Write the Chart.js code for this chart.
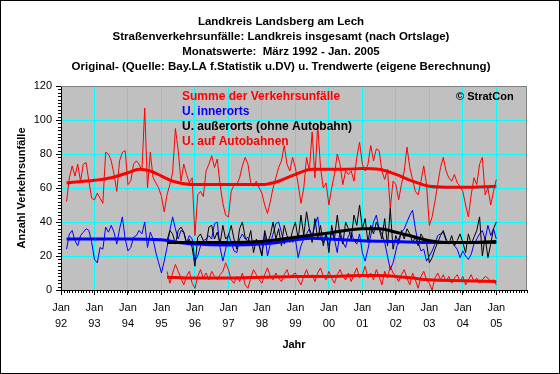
<!DOCTYPE html>
<html>
<head>
<meta charset="utf-8">
<script src="https://cdn.jsdelivr.net/npm/chart.js@4/dist/chart.umd.min.js"></script>
<style>
html,body{margin:0;padding:0;background:#fff;}
canvas{display:block;}
</style>
</head>
<body>
<canvas id="c" width="560" height="374"></canvas>
<script>
// ---- data (month index 0 = Jan 1992) ----
const titleLines = [
  'Landkreis Landsberg am Lech',
  'Straßenverkehrsunfälle: Landkreis insgesamt (nach Ortslage)',
  'Monatswerte:  März 1992 - Jan. 2005',
  'Original- (Quelle: Bay.LA f.Statistik u.DV) u. Trendwerte (eigene Berechnung)'
];
const seriesNames = ['Summe der Verkehrsunfälle', 'U. innerorts', 'U. außerorts (ohne Autobahn)', 'U. auf Autobahnen'];
const yearLabels = ['92','93','94','95','96','97','98','99','00','01','02','03','04','05'];
const startSumme = 2;    // März 1992
const startAusser = 38;  // März 1995

const summe = [
  52,66,73,67,74,64,74,75,64,54,
  53,57,54,51,81,80,76,68,58,76,81,82,
  62,64,74,76,74,70,107,60,81,66,63,60,
  55,46,56,62,69,95,82,64,74,68,63,66,
  32,56,58,55,70,74,79,72,77,62,51,44,
  43,58,62,62,66,73,78,74,63,61,64,60,
  57,50,45,52,60,66,72,76,85,74,70,78,
  72,62,51,60,78,70,93,66,97,72,60,63,
  50,60,68,80,74,62,70,68,70,64,78,87,
  74,70,74,85,76,83,82,70,65,71,48,64,
  62,53,62,70,84,72,65,58,56,64,73,62,
  38,43,52,62,72,78,70,66,64,68,63,61,
  58,50,43,56,66,62,74,78,56,60,50,58,
  65
];
const innerorts = [
  24,33,35,29,26,32,34,36,35,28,
  18,16,25,24,37,34,38,34,27,36,43,30,
  23,25,31,32,35,33,40,25,34,30,22,16,
  10,17,25,35,43,36,30,35,34,28,32,30,
  17,20,26,29,30,32,30,39,40,25,17,24,
  33,28,23,22,30,33,30,31,27,29,28,27,
  21,33,20,27,33,39,40,34,27,30,31,28,
  30,19,26,30,33,36,32,38,43,30,28,33,
  26,34,30,22,35,28,25,32,34,29,27,33,
  22,17,24,32,40,44,36,33,28,20,12,16,
  23,30,34,36,40,44,47,36,28,23,24,17,
  20,23,27,32,33,34,29,27,29,26,24,19,
  23,20,18,21,27,30,33,35,30,38,32,36,
  30
];
const ausserorts = [
  29,35,33,27,35,37,34,27,30,25,
  14,31,33,29,27,37,38,30,34,27,38,30,
  32,38,30,24,36,40,31,28,35,22,30,26,
  20,35,28,32,40,30,36,26,38,32,28,35,
  40,30,44,32,46,36,28,42,30,38,26,34,
  22,38,30,44,32,27,40,36,30,44,38,50,
  36,42,28,38,33,40,36,30,42,26,48,24,
  32,27,35,30,36,33,28,31,26,33,30,28,
  16,19,24,28,32,35,30,27,32,26,29,33,
  28,22,33,27,31,35,43,20,31,19,27,36,
  40
];
const autobahn = [
  11,4,10,15,11,7,3,8,11,4,
  1,8,12,7,10,6,11,8,6,9,11,16,
  12,6,4,8,5,10,3,1,7,12,9,6,
  4,9,13,8,6,10,7,5,9,12,7,9,
  10,6,3,8,12,7,9,5,10,13,8,6,
  11,7,4,9,12,8,6,10,5,9,13,7,
  9,14,7,10,6,12,8,3,11,7,14,10,
  8,5,9,12,7,3,10,6,1,8,11,6,
  4,0,7,10,6,9,5,8,4,7,9,5,
  8,3,6,9,5,7,4,6,8,7,5,6,
  3
];
// trend values (month index, value)
const trendSummeM = [2,12,18,24,28,32,36,40,44,48,60,72,78,84,90,96,102,108,114,120,126,132,138,144,156];
const trendSummeV = [63,64.5,66,69,71,70,67,64,62.5,62,62,62,64,68,71,71,71,71.5,71,68,64,61,60.5,60.5,61];
const trendInnerM = [2,24,36,42,48,60,72,84,90,96,108,120,132,156];
const trendInnerV = [30,30,29.5,28,27,26.5,27,29.5,30.5,30,29,28.5,28,28];
const trendAusserM = [38,48,60,72,84,96,108,114,120,126,132,138,144,156];
const trendAusserV = [28,28,28,28.5,31,33.5,36,36,34,31.5,29,28,28,28.5];
const trendAutoM = [38,48,60,72,84,96,108,114,120,126,132,144,156];
const trendAutoV = [7.5,7,7,7.5,8,8,8.5,8.5,8,7,6,5.5,5];

const FONT = "'Liberation Sans', Arial, sans-serif";
const pts = (start, arr) => arr.map((v, i) => ({x: start + i, y: v}));
const tpts = (m, v) => m.map((x, i) => ({x: x, y: v[i]}));

const raw = (label, data, color) => ({label, data, borderColor: color, borderWidth: 1, pointRadius: 0, fill: false, tension: 0});
const trend = (label, data, color) => ({label, data, borderColor: color, borderWidth: 3, pointRadius: 0, fill: false, cubicInterpolationMode: 'monotone'});

const decor = {
  id: 'decor',
  beforeDraw(chart) {
    const {ctx, chartArea: a} = chart;
    ctx.save();
    ctx.fillStyle = '#fff';
    ctx.fillRect(0, 0, chart.width, chart.height);
    ctx.fillStyle = '#C0C0C0';
    ctx.fillRect(a.left, a.top, a.right - a.left, a.bottom - a.top);
    ctx.restore();
  },
  afterDraw(chart) {
    const {ctx, chartArea: a, scales: {x, y}} = chart;
    ctx.save();
    // plot frame top/right
    ctx.strokeStyle = '#808080';
    ctx.lineWidth = 1;
    ctx.beginPath();
    ctx.moveTo(a.left, Math.round(a.top) + 0.5);
    ctx.lineTo(Math.round(a.right) - 0.5, Math.round(a.top) + 0.5);
    ctx.lineTo(Math.round(a.right) - 0.5, a.bottom);
    ctx.stroke();
    // minor ticks
    ctx.strokeStyle = '#000';
    ctx.beginPath();
    for (let m = 0; m <= 167; m++) {
      const px = Math.round(x.getPixelForValue(m)) + 0.5;
      ctx.moveTo(px, a.bottom); ctx.lineTo(px, a.bottom + 3);
    }
    for (let v = 0; v <= 120; v += 2) {
      const py = Math.round(y.getPixelForValue(v)) + 0.5;
      ctx.moveTo(a.left - 3, py); ctx.lineTo(a.left, py);
    }
    ctx.stroke();
    // title
    ctx.fillStyle = '#000';
    ctx.font = 'bold 11.5px ' + FONT;
    ctx.textAlign = 'center';
    ctx.textBaseline = 'middle';
    const ty = [22, 37, 52, 67];
    titleLines.forEach((t, i) => ctx.fillText(t, 281, ty[i]));
    // legend (text only)
    ctx.textAlign = 'left';
    ctx.font = 'bold 12px ' + FONT;
    const lc = ['#FF0000', '#0000FF', '#000000', '#FF0000'];
    seriesNames.forEach((t, i) => { ctx.fillStyle = lc[i]; ctx.fillText(t, 182, 97 + i * 15); });
    ctx.fillStyle = '#000';
    ctx.font = 'bold 11px ' + FONT;
    ctx.fillText('© StratCon', 456, 97);
    // outer border
    ctx.strokeStyle = '#000';
    ctx.strokeRect(0.5, 0.5, chart.width - 1, chart.height - 1);
    ctx.restore();
  }
};

new Chart(document.getElementById('c'), {
  type: 'line',
  data: {
    datasets: [
      trend('Trend Summe', tpts(trendSummeM, trendSummeV), '#FF0000'),
      trend('Trend außerorts', tpts(trendAusserM, trendAusserV), '#000000'),
      trend('Trend innerorts', tpts(trendInnerM, trendInnerV), '#0000FF'),
      trend('Trend Autobahnen', tpts(trendAutoM, trendAutoV), '#FF0000'),
      raw(seriesNames[3], pts(startAusser, autobahn), '#FF0000'),
      raw(seriesNames[2], pts(startAusser, ausserorts), '#000000'),
      raw(seriesNames[1], pts(startSumme, innerorts), '#0000FF'),
      raw(seriesNames[0], pts(startSumme, summe), '#FF0000')
    ]
  },
  options: {
    responsive: false,
    animation: false,
    devicePixelRatio: 1,
    layout: {padding: {top: 86, right: 33, left: 0, bottom: 0}},
    plugins: {legend: {display: false}, title: {display: false}, tooltip: {enabled: false}},
    scales: {
      x: {
        type: 'linear', min: 0, max: 167,
        afterBuildTicks: (s) => { s.ticks = yearLabels.map((_, i) => ({value: i * 12})); },
        afterFit: (s) => { s.height = 84; },
        ticks: {
          autoSkip: false, maxRotation: 0, minRotation: 0, padding: 5, color: '#000',
          font: {family: FONT, size: 11, lineHeight: 1.45},
          callback: (v, i) => ['Jan', yearLabels[i]]
        },
        grid: {color: '#00FFFF', tickColor: '#000', tickLength: 5, lineWidth: 1},
        border: {color: '#000', width: 1},
        title: {display: true, text: 'Jahr', color: '#000', font: {family: FONT, size: 11, weight: 'bold'}, padding: {top: 0, bottom: 22}}
      },
      y: {
        min: 0, max: 120,
        afterFit: (s) => { s.width = 61; },
        ticks: {stepSize: 20, padding: 4, color: '#000', font: {family: FONT, size: 11}},
        grid: {color: '#00FFFF', tickColor: '#000', tickLength: 5, lineWidth: 1},
        border: {color: '#000', width: 1},
        title: {display: true, text: 'Anzahl Verkehrsunfälle', color: '#000', font: {family: FONT, size: 11, weight: 'bold'}, padding: {top: 15, bottom: 0}}
      }
    }
  },
  plugins: [decor]
});
</script>
</body>
</html>
